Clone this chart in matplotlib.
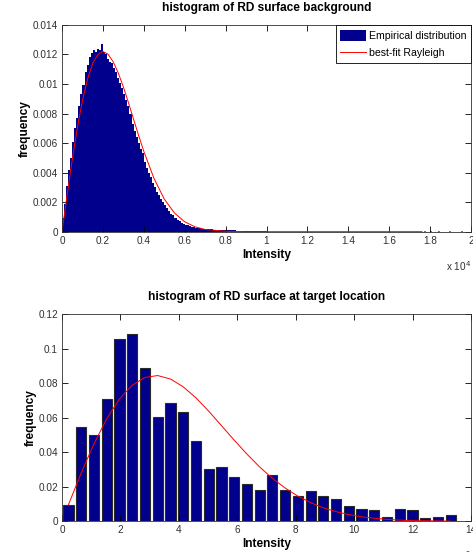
import numpy as np
import matplotlib
matplotlib.use('Agg')
import matplotlib.pyplot as plt

plt.rcParams['font.family'] = ['Liberation Sans', 'DejaVu Sans']

# --- top panel: background histogram (bins of 100 intensity units) ---
bg_bin_width = 100
bg_freq = [0.0009, 0.0019, 0.0031, 0.0042, 0.0050, 0.0061, 0.0070, 0.0077, 0.0085, 0.0093,
           0.0099, 0.0108, 0.0113, 0.0118, 0.0121, 0.0123, 0.0122, 0.0124, 0.0123, 0.0127,
           0.0122, 0.0120, 0.0117, 0.0115, 0.0114, 0.0111, 0.0108, 0.0104, 0.0101, 0.0097,
           0.0093, 0.0089, 0.0085, 0.0080, 0.0073, 0.0068, 0.0064, 0.0060, 0.0056, 0.0053,
           0.0047, 0.0043, 0.0040, 0.0037, 0.0033, 0.0030, 0.0027, 0.0025, 0.0022, 0.0020,
           0.0018, 0.0016, 0.0014, 0.0012, 0.0011, 0.0009, 0.0008, 0.00075, 0.0006, 0.00055,
           0.00048, 0.00042, 0.00038, 0.00035, 0.0003, 0.00028, 0.00026, 0.00024, 0.0002, 0.00019,
           0.00018, 0.00017, 0.00016, 0.00015, 0.00014, 0.00013, 0.00012, 0.00012, 0.00011, 0.0001,
           0.0001, 0.00009, 0.00009, 0.00008, 0.00008, 0.00007, 0.00007, 0.00006, 0.00006, 0.00006,
           0.00005, 0.00005, 0.00005, 0.00004, 0.00004, 0.00004, 0.00003, 0.00003, 0.00003, 0.00003]
bg_tail_x = [17750, 18050, 18450, 18950, 19550]
bg_tail_y = [0.00003, 0.00004, 0.00003, 0.00003, 0.00004]

bg_fit_x = [0, 250, 500, 750, 1000, 1250, 1500, 1750, 2000, 2250, 2500, 2750, 3000, 3250,
            3500, 3750, 4000, 4500, 5000, 5500, 6000, 6500, 7000, 8000, 9000, 17600]
bg_fit_y = [0, 0.0025, 0.00488, 0.00703, 0.00888, 0.01034, 0.01139, 0.0120, 0.0122, 0.01202,
            0.01151, 0.01075, 0.0098, 0.00873, 0.00761, 0.0065, 0.00544, 0.0036, 0.00221,
            0.00126, 0.00067, 0.00033, 0.00015, 0.00003, 0, 0]

bg_xticks = [0, 2000, 4000, 6000, 8000, 10000, 12000, 14000, 16000, 18000, 20000]
bg_xlabels = ['0', '0.2', '0.4', '0.6', '0.8', '1', '1.2', '1.4', '1.6', '1.8', '2']
bg_yticks = [0, 0.002, 0.004, 0.006, 0.008, 0.01, 0.012, 0.014]
bg_ylabels = ['0', '0.002', '0.004', '0.006', '0.008', '0.01', '0.012', '0.014']

# --- bottom panel: target location histogram (x in units of 1e5) ---
tg_centers = [0.22, 0.656, 1.093, 1.529, 1.965, 2.402, 2.838, 3.274, 3.71, 4.147, 4.583,
              5.019, 5.456, 5.892, 6.328, 6.765, 7.201, 7.637, 8.073, 8.51, 8.946, 9.382,
              9.819, 10.255, 10.691, 11.128, 11.564, 12.0, 12.437, 12.873, 13.31]
tg_freq = [0.0093, 0.0549, 0.0500, 0.0709, 0.1055, 0.1086, 0.0887, 0.0603, 0.0684, 0.0634,
           0.0468, 0.0301, 0.0313, 0.0255, 0.0218, 0.0182, 0.0269, 0.0182, 0.0147, 0.0178,
           0.0145, 0.0128, 0.0091, 0.0073, 0.0066, 0.0024, 0.0074, 0.0067, 0.0019, 0.0024, 0.0036]
tg_fit = [0.0096, 0.0280, 0.0449, 0.0594, 0.0709, 0.0789, 0.0834, 0.0845, 0.0825, 0.0780,
          0.0716, 0.0639, 0.0555, 0.0471, 0.0390, 0.0315, 0.0249, 0.0193, 0.0146, 0.0108,
          0.0078, 0.0056, 0.0039, 0.0026, 0.0018, 0.0011, 0.0007, 0.0004, 0.0003, 0.0002, 0.0001]

tg_xticks = [0, 2, 4, 6, 8, 10, 12, 14]
tg_yticks = [0, 0.02, 0.04, 0.06, 0.08, 0.1, 0.12]
tg_ylabels = ['0', '0.02', '0.04', '0.06', '0.08', '0.1', '0.12']

navy = '#00008C'
tick_size = 7.2
label_size = 8.6


def style_axes(ax):
    ax.tick_params(direction='in', top=True, right=True, length=4, width=0.6,
                   labelsize=tick_size, labelcolor='#303030', pad=3)
    for s in ax.spines.values():
        s.set_linewidth(0.6)
        s.set_color('#303030')


fig = plt.figure(figsize=(4.73, 5.52), dpi=100)

# top
ax1 = fig.add_axes([0.1311, 0.5803, 0.8647, 0.3745])
bg_centers = np.arange(len(bg_freq)) * bg_bin_width + bg_bin_width / 2
bars = ax1.bar(bg_centers, bg_freq, width=bg_bin_width, color=navy, edgecolor='none')
ax1.bar(bg_tail_x, bg_tail_y, width=bg_bin_width, color='#8060c0', edgecolor='none')
line, = ax1.plot(bg_fit_x, bg_fit_y, color='red', lw=0.7)
ax1.set_xlim(0, 20000)
ax1.set_ylim(0, 0.014)
ax1.set_xticks(bg_xticks)
ax1.set_xticklabels(bg_xlabels)
ax1.set_yticks(bg_yticks)
ax1.set_yticklabels(bg_ylabels)
style_axes(ax1)
ax1.set_title('histogram of RD surface background', fontsize=label_size,
              fontweight='bold', pad=10)
ax1.set_xlabel('Intensity', fontsize=label_size, fontweight='bold', labelpad=2)
ax1.set_ylabel('frequency', fontsize=label_size, fontweight='bold', labelpad=1)
ax1.text(1.0, -0.135, r'x 10$^{4}$', transform=ax1.transAxes, ha='right', va='top',
         fontsize=tick_size, color='#303030')
leg = ax1.legend([bars, line], ['Empirical distribution', 'best-fit Rayleigh'],
                 loc='upper right', fontsize=7.6, borderaxespad=0, fancybox=False,
                 framealpha=1, edgecolor='black', handlelength=2.4, handleheight=1.3,
                 handletextpad=0.3, borderpad=0.45, labelspacing=0.55)
leg.get_frame().set_linewidth(0.6)

# bottom
ax2 = fig.add_axes([0.1311, 0.0556, 0.8647, 0.375])
ax2.bar(tg_centers, tg_freq, width=0.35, color=navy, edgecolor='#2a2a2a', linewidth=0.8)
ax2.plot(tg_centers, tg_fit, color='red', lw=0.7)
ax2.set_xlim(0, 14)
ax2.set_ylim(0, 0.12)
ax2.set_xticks(tg_xticks)
ax2.set_yticks(tg_yticks)
ax2.set_yticklabels(tg_ylabels)
style_axes(ax2)
ax2.set_title('histogram of RD surface at target location', fontsize=label_size,
              fontweight='bold', pad=10)
ax2.set_xlabel('Intensity', fontsize=label_size, fontweight='bold', labelpad=2)
ax2.set_ylabel('frequency', fontsize=label_size, fontweight='bold', labelpad=1)
ax2.text(1.0, -0.135, r'x 10$^{5}$', transform=ax2.transAxes, ha='right', va='top',
         fontsize=tick_size, color='#303030')

plt.savefig('out.png', dpi=100)
